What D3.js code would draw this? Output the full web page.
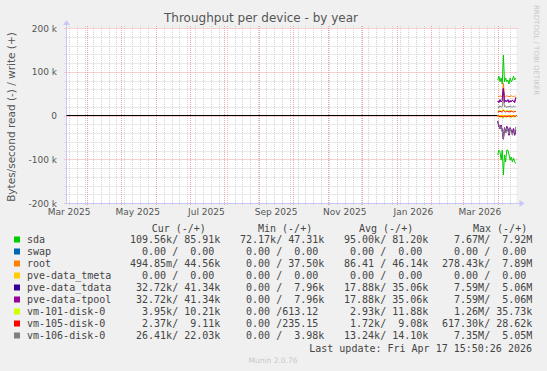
<!DOCTYPE html>
<html>
<head>
<meta charset="utf-8">
<script src="https://cdn.jsdelivr.net/npm/d3@7"></script>
<style>
  body { margin: 0; background: #f0f0f0; }
  svg { display: block; }
  text { font-family: "DejaVu Sans", sans-serif; }
  .mono { font-family: "DejaVu Sans Mono", monospace; white-space: pre; }
</style>
</head>
<body>
<svg id="chart"></svg>
<script>
const width = 547;
const height = 371;

// daily points, values in k (bytes/s)
const days = ['2026-04-01', '2026-04-02', '2026-04-03', '2026-04-04', '2026-04-05', '2026-04-06',
  '2026-04-07', '2026-04-08', '2026-04-09', '2026-04-10', '2026-04-11', '2026-04-12',
  '2026-04-13', '2026-04-14', '2026-04-15', '2026-04-16', '2026-04-17'];

const names = ['sda', 'swap', 'root', 'pve-data_tmeta', 'pve-data_tdata', 'pve-data-tpool',
  'vm-101-disk-0', 'vm-105-disk-0', 'vm-106-disk-0'];
const colors = ['#00cc00', '#0066b3', '#ff8000', '#ffcc00', '#330099', '#990099',
  '#ccff00', '#ff0000', '#808080'];

const sdaWrite = [81, 90, 77, 86, 72, 138, 77, 86, 77, 81, 72, 86, 77, 81, 90, 81, 86];
const sdaRead = [90, 79, 83, 102, 79, 136, 90, 106, 79, 79, 90, 102, 95, 106, 97, 106, 110];
const swapWrite = [0, 0, 0, 0, 0, 0, 0, 0, 0, 0, 0, 0, 0, 0, 0, 0, 0];
const swapRead = [0, 0, 0, 0, 0, 0, 0, 0, 0, 0, 0, 0, 0, 0, 0, 0, 0];
const rootWrite = [44, 43, 45, 44, 42, 74, 44, 43, 45, 44, 43, 44, 45, 44, 43, 44, 45];
const rootRead = [0.1, 0.1, 0.1, 0.1, 0.1, 0.3, 0.1, 0.1, 0.1, 0.1, 0.1, 0.1, 0.1, 0.1, 0.1, 0.1, 0.5];
const tmetaWrite = [0, 0, 0, 0, 0, 0, 0, 0, 0, 0, 0, 0, 0, 0, 0, 0, 0];
const tmetaRead = [0, 0, 0, 0, 0, 0, 0, 0, 0, 0, 0, 0, 0, 0, 0, 0, 0];
const tdataWrite = [33, 30, 36, 31, 34, 62, 30, 35, 32, 36, 30, 34, 31, 35, 33, 30, 41];
const tdataRead = [13, 25, 30, 22, 35, 54, 28, 40, 25, 30, 45, 28, 35, 40, 30, 45, 33];
const tpoolWrite = [33, 30, 36, 31, 34, 62, 30, 35, 32, 36, 30, 34, 31, 35, 33, 30, 41];
const tpoolRead = [13, 25, 30, 22, 35, 54, 28, 40, 25, 30, 45, 28, 35, 40, 30, 45, 33];
const vm101Write = [9, 11, 10, 12, 9, 15, 10, 11, 9, 12, 10, 11, 10, 9, 11, 10, 10];
const vm101Read = [3, 4, 2, 5, 3, 6, 2, 4, 3, 2, 3, 4, 3, 2, 3, 4, 4];
const vm105Write = [8, 9, 10, 8, 9, 12, 9, 8, 10, 9, 8, 9, 10, 9, 8, 9, 9];
const vm105Read = [2, 1, 3, 2, 2, 4, 1, 2, 3, 2, 1, 2, 3, 2, 1, 2, 2];
const vm106Write = [20, 18, 22, 19, 21, 38, 20, 22, 18, 21, 19, 22, 20, 19, 21, 20, 22];
const vm106Read = [15, 20, 30, 25, 35, 52, 30, 40, 28, 35, 42, 30, 38, 45, 35, 40, 26];

const writes = [sdaWrite, swapWrite, rootWrite, tmetaWrite, tdataWrite, tpoolWrite, vm101Write, vm105Write, vm106Write];
const reads = [sdaRead, swapRead, rootRead, tmetaRead, tdataRead, tpoolRead, vm101Read, vm105Read, vm106Read];

const curCol = ['109.56k/ 85.91k', '  0.00 /  0.00 ', '494.85m/ 44.56k', '  0.00 /  0.00 ', ' 32.72k/ 41.34k',
  ' 32.72k/ 41.34k', '  3.95k/ 10.21k', '  2.37k/  9.11k', ' 26.41k/ 22.03k'];
const minCol = [' 72.17k/ 47.31k', '  0.00 /  0.00 ', '  0.00 / 37.50k', '  0.00 /  0.00 ', '  0.00 /  7.96k',
  '  0.00 /  7.96k', '  0.00 /613.12 ', '  0.00 /235.15 ', '  0.00 /  3.98k'];
const avgCol = [' 95.00k/ 81.20k', '  0.00 /  0.00 ', ' 86.41 / 46.14k', '  0.00 /  0.00 ', ' 17.88k/ 35.06k',
  ' 17.88k/ 35.06k', '  2.93k/ 11.88k', '  1.72k/  9.08k', ' 13.24k/ 14.10k'];
const maxCol = ['  7.67M/  7.92M', '  0.00 /  0.00 ', '278.43k/  7.89M', '  0.00 /  0.00 ', '  7.59M/  5.06M',
  '  7.59M/  5.06M', '  1.26M/ 35.73k', '617.30k/ 28.62k', '  7.35M/  5.05M'];
const headers = ['Cur (-/+)', 'Min (-/+)', 'Avg (-/+)', 'Max (-/+)'];

const yTicks = [-200, -100, 0, 100, 200];
const monthLabels = ['Mar 2025', 'May 2025', 'Jul 2025', 'Sep 2025', 'Nov 2025', 'Jan 2026', 'Mar 2026'];

const parseDay = d3.timeParse('%Y-%m-%d');
const parseMonth = d3.timeParse('%b %Y');
const end = new Date(2026, 3, 17, 15, 50, 26);
const start = d3.timeDay.offset(end, -400);

const plotLeft = 66.5, plotRight = 516.5, plotTop = 28, plotBottom = 203;

const x = d3.scaleTime().domain([start, end]).range([plotLeft, plotRight]);
const y = d3.scaleLinear().domain([-200, 200]).range([plotBottom, plotTop]);

const svg = d3.select('#chart').attr('width', width).attr('height', height);

svg.append('rect').attr('width', width).attr('height', height).attr('fill', '#f0f0f0');
svg.append('rect')
    .attr('x', plotLeft).attr('y', plotTop)
    .attr('width', plotRight - plotLeft).attr('height', plotBottom - plotTop)
    .attr('fill', '#ffffff');

// minor grid
const grid = svg.append('g');
grid.selectAll('.hmin')
    .data(d3.range(-200, 201, 20).filter(v => v % 100 !== 0))
    .enter().append('line')
    .attr('x1', plotLeft - 2).attr('x2', plotRight + 2)
    .attr('y1', d => Math.round(y(d)) + 0.5).attr('y2', d => Math.round(y(d)) + 0.5)
    .attr('stroke', '#d2d2d2').attr('stroke-dasharray', '1,1');
grid.selectAll('.vmin')
    .data(d3.timeSunday.range(start, end))
    .enter().append('line')
    .attr('x1', d => Math.round(x(d)) + 0.5).attr('x2', d => Math.round(x(d)) + 0.5)
    .attr('y1', plotTop - 2).attr('y2', plotBottom + 2)
    .attr('stroke', '#d2d2d2').attr('stroke-dasharray', '1,1');

// major grid
grid.selectAll('.hmaj')
    .data(yTicks)
    .enter().append('line')
    .attr('x1', plotLeft - 2).attr('x2', plotRight + 2)
    .attr('y1', d => Math.round(y(d)) + 0.5).attr('y2', d => Math.round(y(d)) + 0.5)
    .attr('stroke', '#f0a0a0').attr('stroke-dasharray', '1,1');
grid.selectAll('.vmaj')
    .data(d3.timeMonth.range(d3.timeMonth.ceil(start), end))
    .enter().append('line')
    .attr('x1', d => Math.round(x(d)) + 0.5).attr('x2', d => Math.round(x(d)) + 0.5)
    .attr('y1', plotTop - 2).attr('y2', plotBottom + 3)
    .attr('stroke', '#f0a0a0').attr('stroke-dasharray', '1,1');

// axes
const axisColor = '#c8c8f8';
svg.append('line')
    .attr('x1', plotLeft).attr('x2', plotLeft).attr('y1', plotTop - 4).attr('y2', plotBottom + 1)
    .attr('stroke', axisColor);
svg.append('line')
    .attr('x1', plotLeft).attr('x2', plotRight + 3).attr('y1', plotBottom + 0.5).attr('y2', plotBottom + 0.5)
    .attr('stroke', axisColor);
svg.append('path')
    .attr('d', `M${plotRight + 3},${plotBottom - 3}L${plotRight + 8},${plotBottom + 0.5}L${plotRight + 3},${plotBottom + 4}Z`)
    .attr('fill', axisColor);
svg.append('path')
    .attr('d', `M${plotLeft - 3.5},${plotTop - 3}L${plotLeft},${plotTop - 8}L${plotLeft + 3.5},${plotTop - 3}Z`)
    .attr('fill', axisColor);

// y tick labels
svg.append('g').selectAll('text')
    .data(yTicks)
    .enter().append('text')
    .attr('x', 57).attr('y', d => y(d) + 3.5)
    .attr('text-anchor', 'end')
    .attr('font-size', 9).attr('fill', '#555')
    .text(d => d === 0 ? '0' : d + ' k');

// x labels, centred on the month
svg.append('g').selectAll('text')
    .data(monthLabels)
    .enter().append('text')
    .attr('x', d => x(d3.timeDay.offset(parseMonth(d), 15)))
    .attr('y', 215)
    .attr('text-anchor', 'middle')
    .attr('font-size', 9).attr('fill', '#555')
    .text(d => d);

// zero line
svg.append('line')
    .attr('x1', plotLeft).attr('x2', plotRight)
    .attr('y1', y(0)).attr('y2', y(0))
    .attr('stroke', '#000');

// series
const dates = days.map(parseDay);
const line = d3.line()
    .x(d => x(d[0]))
    .y(d => y(d[1]));

const series = svg.append('g').attr('fill', 'none').attr('stroke-width', 1);
names.forEach((name, i) => {
    series.append('path')
        .datum(dates.map((d, j) => [d, -reads[i][j]]))
        .attr('stroke', colors[i])
        .attr('d', line);
    series.append('path')
        .datum(dates.map((d, j) => [d, writes[i][j]]))
        .attr('stroke', colors[i])
        .attr('d', line);
});

// title
svg.append('text')
    .attr('x', 261).attr('y', 22)
    .attr('text-anchor', 'middle')
    .attr('font-size', 12).attr('fill', '#555')
    .text('Throughput per device - by year');

// vertical label
svg.append('text')
    .attr('transform', 'translate(15,117) rotate(-90)')
    .attr('text-anchor', 'middle')
    .attr('font-size', 10.5).attr('fill', '#555')
    .text('Bytes/second read (-) / write (+)');

svg.append('text')
    .attr('transform', 'translate(534,5) rotate(90)')
    .attr('font-size', 7).attr('fill', '#c8c8c8')
    .text('RRDTOOL / TOBI OETIKER');

// legend
const legend = svg.append('g').attr('font-size', 10).attr('fill', '#444');
const headerX = [151.7, 258, 359, 473];
legend.selectAll('.hdr')
    .data(headers)
    .enter().append('text')
    .attr('class', 'mono')
    .attr('x', (d, i) => headerX[i]).attr('y', 232)
    .text(d => d);

const colX = [130, 234, 338, 442];
const cols = [curCol, minCol, avgCol, maxCol];
names.forEach((name, i) => {
    const yy = 243 + i * 12;
    legend.append('rect')
        .attr('x', 14).attr('y', yy - 6.5)
        .attr('width', 6).attr('height', 6)
        .attr('fill', colors[i]);
    legend.append('text')
        .attr('class', 'mono')
        .attr('x', 27).attr('y', yy)
        .text(name);
    cols.forEach((col, k) => {
        legend.append('text')
            .attr('class', 'mono')
            .attr('x', colX[k]).attr('y', yy)
            .text(col[i]);
    });
});

legend.append('text')
    .attr('class', 'mono')
    .attr('x', 532).attr('y', 352)
    .attr('text-anchor', 'end')
    .text('Last update: Fri Apr 17 15:50:26 2026');

svg.append('text')
    .attr('x', 273).attr('y', 363)
    .attr('text-anchor', 'middle')
    .attr('font-size', 7.5).attr('fill', '#c8c8c8')
    .text('Munin 2.0.76');
</script>
</body>
</html>
